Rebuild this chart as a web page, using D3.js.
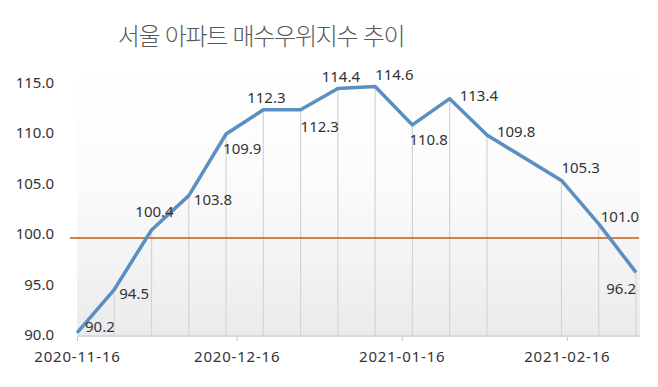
<!DOCTYPE html>
<html lang="ko">
<head>
<meta charset="UTF-8">
<title>서울 아파트 매수우위지수 추이</title>
<script src="https://cdnjs.cloudflare.com/ajax/libs/d3/7.8.5/d3.min.js"></script>
<style>
    body { margin: 0; background: #fff; }
    .title { font-family: "Noto Sans CJK KR", sans-serif; font-size: 24px; font-weight: 300; fill: #595959; letter-spacing: -1.3px; }
    .tick-label { font-family: "Noto Sans", sans-serif; font-size: 15px; fill: #333; }
    .date-label { letter-spacing: 0.8px; }
    .value-label { font-family: "Noto Sans", sans-serif; font-size: 15px; fill: #333; }
</style>
</head>
<body>
<div id="chart"></div>
<script>
    // weekly survey dates (no survey in Seollal week 2021-02-08)
    const dates = ["2020-11-16", "2020-11-23", "2020-11-30", "2020-12-07", "2020-12-14",
                   "2020-12-21", "2020-12-28", "2021-01-04", "2021-01-11", "2021-01-18",
                   "2021-01-25", "2021-02-01", "2021-02-15", "2021-02-22", "2021-03-01"];
    const values = [90.2, 94.5, 100.4, 103.8, 109.9, 112.3, 112.3, 114.4, 114.6, 110.8,
                    113.4, 109.8, 105.3, 101.0, 96.2];
    // where each value label sits relative to its point
    const labelPlace = ["ur", "rl", "al", "rl", "b", "a", "br", "a", "ar", "b",
                        "rm", "rm", "ar", "ru", "bl"];
    const xTicks = ["2020-11-16", "2020-12-16", "2021-01-16", "2021-02-16"];
    const yTicks = [90, 95, 100, 105, 110, 115];
    const baseline = 99.6;
    const title = "서울 아파트 매수우위지수 추이";

    const width = 658, height = 387;
    const parse = d3.timeParse("%Y-%m-%d");
    const data = dates.map((d, i) => ({date: parse(d), value: values[i], place: labelPlace[i]}));

    const svg = d3.select("#chart").append("svg")
        .attr("width", width)
        .attr("height", height);

    const x = d3.scaleTime()
        .domain(d3.extent(data, d => d.date))
        .range([77, 636]);
    const y = d3.scaleLinear()
        .domain([90, 115])
        .range([335, 82.5]);

    const defs = svg.append("defs");
    const grad = defs.append("linearGradient")
        .attr("id", "bg").attr("x1", 0).attr("y1", 0).attr("x2", 0).attr("y2", 1);
    grad.append("stop").attr("offset", "0%").attr("stop-color", "#ffffff");
    grad.append("stop").attr("offset", "45%").attr("stop-color", "#fbfbfb");
    grad.append("stop").attr("offset", "100%").attr("stop-color", "#ebebeb");

    // plot background
    svg.append("rect")
        .attr("x", 77).attr("y", 62)
        .attr("width", 563).attr("height", 274)
        .attr("fill", "url(#bg)");

    // title
    svg.append("text")
        .attr("class", "title")
        .attr("x", 261).attr("y", 45)
        .attr("text-anchor", "middle")
        .text(title);

    // drop lines from each point
    svg.selectAll(".drop")
        .data(data.slice(1))
        .enter().append("line")
        .attr("x1", d => x(d.date)).attr("x2", d => x(d.date))
        .attr("y1", d => y(d.value)).attr("y2", y(90))
        .attr("stroke", "#d4d4d4")
        .attr("stroke-width", 1.2);

    // bottom axis
    const xAxis = svg.append("g")
        .attr("transform", `translate(0,${y(90) + 1})`)
        .call(d3.axisBottom(x)
            .tickValues(xTicks.map(parse))
            .tickSize(5)
            .tickPadding(10)
            .tickFormat(d3.timeFormat("%Y-%m-%d")));
    xAxis.select(".domain").remove();
    xAxis.selectAll(".tick line").attr("stroke", "#c8c8c8");
    xAxis.selectAll(".tick text").attr("class", "tick-label date-label").attr("font-size", null).attr("font-family", null).attr("fill", null);
    svg.append("line")
        .attr("x1", 77).attr("x2", 640)
        .attr("y1", y(90) + 1).attr("y2", y(90) + 1)
        .attr("stroke", "#d9d9d9")
        .attr("stroke-width", 2);

    // left axis labels only
    const yAxis = svg.append("g")
        .attr("transform", "translate(54,0)")
        .call(d3.axisLeft(y)
            .tickValues(yTicks)
            .tickSize(0)
            .tickPadding(0)
            .tickFormat(d3.format(".1f")));
    yAxis.select(".domain").remove();
    yAxis.selectAll(".tick text").attr("class", "tick-label").attr("font-size", null).attr("font-family", null).attr("fill", null);

    // reference line
    svg.append("line")
        .attr("x1", 70).attr("x2", 639)
        .attr("y1", y(baseline)).attr("y2", y(baseline))
        .attr("stroke", "#c55a11")
        .attr("stroke-width", 1.5);

    // series line
    const line = d3.line()
        .x(d => x(d.date))
        .y(d => y(d.value));
    svg.append("path")
        .datum(data)
        .attr("fill", "none")
        .attr("stroke", "#5a8fc3")
        .attr("stroke-width", 3.5)
        .attr("stroke-linejoin", "round")
        .attr("d", line);

    // value labels
    const offsets = {
        ur: {dx: 8, dy: -5, anchor: "start"},
        rl: {dx: 5, dy: 5, anchor: "start"},
        rm: {dx: 10, dy: -2, anchor: "start"},
        ru: {dx: 2, dy: -6, anchor: "start"},
        a:  {dx: 3, dy: -11, anchor: "middle"},
        al: {dx: 3, dy: -17, anchor: "middle"},
        b:  {dx: -3, dy: 16, anchor: "start"},
        br: {dx: 0, dy: 18, anchor: "start"},
        ar: {dx: 0, dy: -11, anchor: "start"},
        bl: {dx: 0, dy: 18, anchor: "end"}
    };
    svg.selectAll(".value-label")
        .data(data)
        .enter().append("text")
        .attr("class", "value-label")
        .attr("x", d => x(d.date) + offsets[d.place].dx)
        .attr("y", d => y(d.value) + offsets[d.place].dy)
        .attr("text-anchor", d => offsets[d.place].anchor)
        .attr("dominant-baseline", "middle")
        .text(d => d.value.toFixed(1));
</script>
</body>
</html>
